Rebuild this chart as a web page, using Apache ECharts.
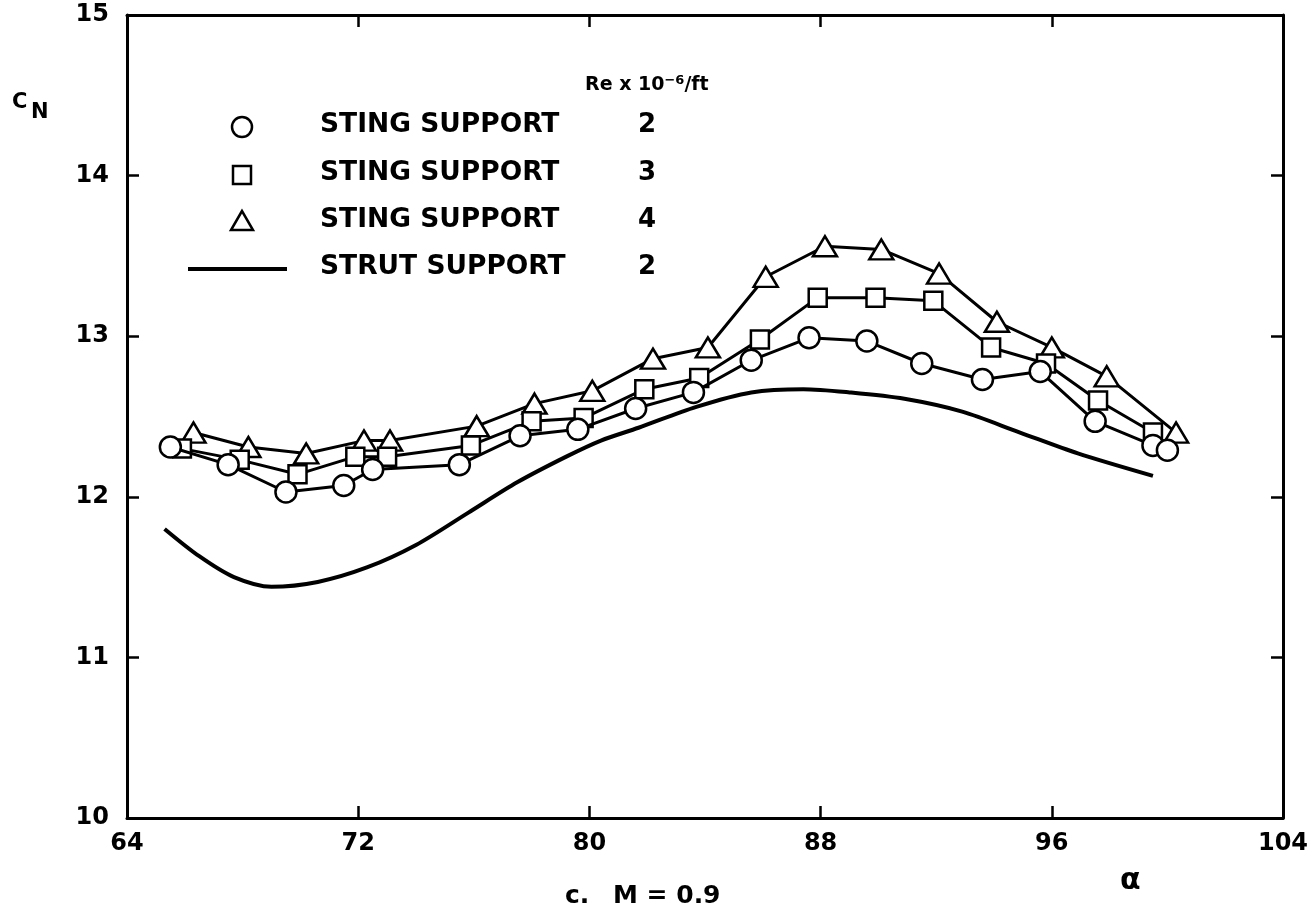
<!DOCTYPE html>
<html><head><meta charset="utf-8">
<script src="https://cdn.jsdelivr.net/npm/echarts@6/dist/echarts.min.js"></script>
<style>html,body{margin:0;padding:0;background:#fff}#c{width:1312px;height:913px}</style>
</head><body><div id="c"></div>
<script>
const xTicks = [64, 72, 80, 88, 96, 104];
const yTicks = [10, 11, 12, 13, 14, 15];

// STING SUPPORT, Re x 10^-6/ft = 2 (circles)
const circleX = [65.5, 67.5, 69.5, 71.5, 72.5, 75.5, 77.6, 79.6, 81.6, 83.6, 85.6, 87.6, 89.6, 91.5, 93.6, 95.6, 97.5, 99.5, 100.0];
const circleY = [12.31, 12.20, 12.03, 12.07, 12.17, 12.20, 12.38, 12.42, 12.55, 12.65, 12.85, 12.99, 12.97, 12.83, 12.73, 12.78, 12.47, 12.32, 12.29];
// STING SUPPORT, 3 (squares)
const squareX = [65.9, 67.9, 69.9, 71.9, 73.0, 75.9, 78.0, 79.8, 81.9, 83.8, 85.9, 87.9, 89.9, 91.9, 93.9, 95.8, 97.6, 99.5];
const squareY = [12.30, 12.23, 12.14, 12.25, 12.25, 12.32, 12.47, 12.49, 12.67, 12.74, 12.98, 13.24, 13.24, 13.22, 12.93, 12.83, 12.60, 12.40];
// STING SUPPORT, 4 (triangles)
const triX = [66.3, 68.2, 70.2, 72.2, 73.1, 76.1, 78.1, 80.1, 82.2, 84.1, 86.1, 88.15, 90.1, 92.1, 94.1, 96.0, 97.9, 100.3];
const triY = [12.40, 12.31, 12.27, 12.35, 12.35, 12.44, 12.58, 12.66, 12.86, 12.93, 13.37, 13.56, 13.54, 13.39, 13.09, 12.93, 12.75, 12.40];
// STRUT SUPPORT, 2 (solid curve)
const strutX = [65.3, 66.5, 67.7, 69.0, 70.6, 72.3, 74.0, 75.8, 77.5, 79.2, 80.4, 81.7, 83.7, 85.6, 87.4, 89.0, 90.9, 92.9, 94.9, 96.9, 99.5];
const strutY = [11.80, 11.63, 11.50, 11.44, 11.47, 11.56, 11.70, 11.90, 12.09, 12.25, 12.35, 12.43, 12.56, 12.65, 12.67, 12.65, 12.61, 12.53, 12.40, 12.27, 12.13];

const legendNames = ['STING SUPPORT', 'STING SUPPORT', 'STING SUPPORT', 'STRUT SUPPORT'];
const legendRe = ['2', '3', '4', '2'];

const zip = (xs, ys) => xs.map((x, i) => [x, ys[i]]);
const FONT = 'DejaVu Sans';
const markerStyle = {color: '#fff', borderColor: '#000', borderWidth: 2.5};

const chart = echarts.init(document.getElementById('c'));
const axisCommon = {
  axisLine: {show: true, lineStyle: {color: '#000', width: 3}},
  axisTick: {show: true, inside: true, length: 12, lineStyle: {color: '#000', width: 2.5}},
  splitLine: {show: false}
};
const lg = [];
const rowY = [127, 175, 222, 269];
const symX = 242;
// legend symbols
lg.push({type: 'circle', shape: {cx: symX, cy: rowY[0], r: 10}, style: {fill: '#fff', stroke: '#000', lineWidth: 2.5}});
lg.push({type: 'rect', shape: {x: symX - 9, y: rowY[1] - 9, width: 18, height: 18}, style: {fill: '#fff', stroke: '#000', lineWidth: 2.5}});
lg.push({type: 'polygon', shape: {points: [[symX, rowY[2] - 11], [symX - 11, rowY[2] + 8], [symX + 11, rowY[2] + 8]]}, style: {fill: '#fff', stroke: '#000', lineWidth: 2.5}});
lg.push({type: 'line', shape: {x1: 188, y1: rowY[3], x2: 287, y2: rowY[3]}, style: {stroke: '#000', lineWidth: 4}});
legendNames.forEach((n, i) => {
  lg.push({type: 'text', left: 320, top: rowY[i] - 15, style: {text: n, font: 'bold 26.5px "' + FONT + '"', fill: '#000'}});
  lg.push({type: 'text', left: 638, top: rowY[i] - 15, style: {text: legendRe[i], font: 'bold 26px "' + FONT + '"', fill: '#000'}});
});
lg.push({type: 'text', left: 585, top: 74, style: {
  text: '{a|Re x 10}{s|−6}{a|/ft}',
  rich: {a: {fontFamily: FONT, fontWeight: 'bold', fontSize: 19, color: '#000'},
         s: {fontFamily: FONT, fontWeight: 'bold', fontSize: 13, color: '#000', verticalAlign: 'top', padding: [0, 0, 10, 0]}}
}});
lg.push({type: 'text', left: 12, top: 92, style: {text: 'C', font: 'bold 21px "' + FONT + '"', fill: '#000'}});
lg.push({type: 'text', left: 31, top: 102, style: {text: 'N', font: 'bold 21px "' + FONT + '"', fill: '#000'}});
lg.push({type: 'text', left: 1120, top: 866, style: {text: 'α', font: 'bold 30px "' + FONT + '"', fill: '#000'}});
lg.push({type: 'text', left: 565, top: 884, style: {text: 'c.', font: 'bold 25px "' + FONT + '"', fill: '#000'}});
lg.push({type: 'text', left: 613, top: 884, style: {text: 'M = 0.9', font: 'bold 25px "' + FONT + '"', fill: '#000'}});

chart.setOption({
  animation: false,
  backgroundColor: '#fff',
  grid: {left: 127, right: 29, top: 15, bottom: 95, containLabel: false},
  xAxis: [
    Object.assign({type: 'value', min: 64, max: 104, interval: 8, position: 'bottom',
      axisLabel: {color: '#000', fontFamily: FONT, fontWeight: 'bold', fontSize: 24, margin: 14,
        formatter: v => xTicks.includes(v) ? String(v) : ''}}, axisCommon),
    Object.assign({type: 'value', min: 64, max: 104, interval: 8, position: 'top', axisLabel: {show: false}}, axisCommon)
  ],
  yAxis: [
    Object.assign({type: 'value', min: 10, max: 15, interval: 1, position: 'left',
      axisLabel: {color: '#000', fontFamily: FONT, fontWeight: 'bold', fontSize: 24, margin: 18,
        formatter: v => yTicks.includes(v) ? String(v) : ''}}, axisCommon),
    Object.assign({type: 'value', min: 10, max: 15, interval: 1, position: 'right', axisLabel: {show: false}}, axisCommon)
  ],
  graphic: lg,
  series: [
    {name: 'STRUT SUPPORT 2', type: 'line', data: zip(strutX, strutY), smooth: 0.3, showSymbol: false,
      lineStyle: {color: '#000', width: 4}, z: 2},
    {name: 'STING SUPPORT 4', type: 'line', data: zip(triX, triY), symbol: 'triangle', symbolSize: [24, 20],
      lineStyle: {color: '#000', width: 3}, itemStyle: markerStyle, z: 3},
    {name: 'STING SUPPORT 3', type: 'line', data: zip(squareX, squareY), symbol: 'rect', symbolSize: 18,
      lineStyle: {color: '#000', width: 3}, itemStyle: markerStyle, z: 4},
    {name: 'STING SUPPORT 2', type: 'line', data: zip(circleX, circleY), symbol: 'circle', symbolSize: 21,
      lineStyle: {color: '#000', width: 3}, itemStyle: markerStyle, z: 5}
  ]
});
</script></body></html>
